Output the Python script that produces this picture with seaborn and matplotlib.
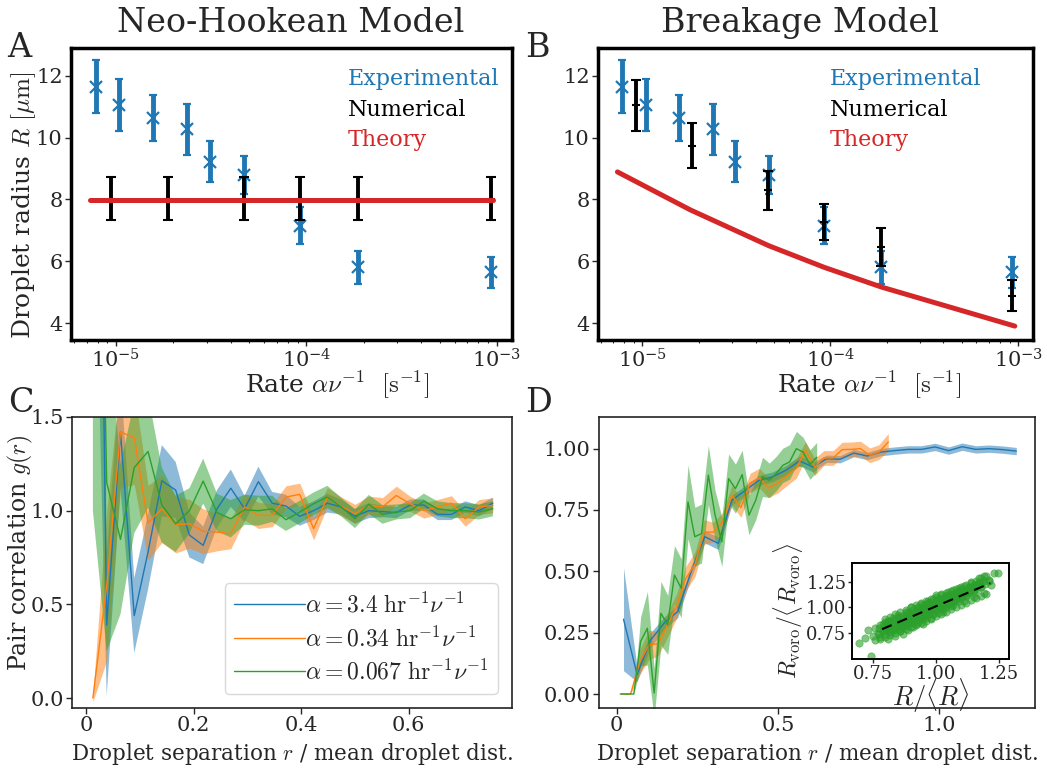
import matplotlib
matplotlib.use("Agg")
import matplotlib.pyplot as plt
import seaborn as sns

sns.set_theme(style="ticks")
plt.rcParams['font.family'] = ['DejaVu Serif']
plt.rcParams['mathtext.fontset'] = 'cm'

BLUE, ORANGE, GREEN, RED = '#1f77b4', '#ff7f0e', '#2ca02c', '#d62728'

# ---------------- Panels A / B data ----------------
exp_rate = [7.8e-6, 1.04e-5, 1.56e-5, 2.37e-5, 3.11e-5, 4.71e-5, 9.3e-5, 1.87e-4, 9.3e-4]
exp_R = [11.65, 11.05, 10.63, 10.27, 9.22, 8.8, 7.15, 5.8, 5.64]
exp_err = [0.85, 0.85, 0.75, 0.82, 0.66, 0.62, 0.59, 0.54, 0.5]

numA_rate = [9.4e-6, 1.88e-5, 4.71e-5, 9.3e-5, 1.87e-4, 9.3e-4]
numA_R = [8.02, 8.02, 8.02, 8.02, 8.02, 8.02]
numA_err = [0.7, 0.7, 0.7, 0.7, 0.7, 0.7]
theoryA_rate = [7.3e-6, 9.5e-4]
theoryA_R = [7.97, 7.97]

numB_rate = [9.2e-6, 1.84e-5, 4.67e-5, 9.3e-5, 1.87e-4, 9.3e-4]
numB_R = [11.05, 9.74, 8.29, 7.27, 6.47, 4.89]
numB_err = [0.83, 0.72, 0.64, 0.59, 0.61, 0.5]
theoryB_rate = [7.36e-6, 1.8e-5, 4.71e-5, 9.3e-5, 1.88e-4, 9.6e-4]
theoryB_R = [8.89, 7.66, 6.50, 5.80, 5.16, 3.90]

# ---------------- Panel C data ----------------
xC = [0.0128, 0.0385, 0.0641, 0.0897, 0.1154, 0.1410, 0.1667, 0.1923, 0.2179, 0.2436,
      0.2692, 0.2949, 0.3205, 0.3462, 0.3718, 0.3974, 0.4231, 0.4487, 0.4744, 0.5000,
      0.5256, 0.5513, 0.5769, 0.6026, 0.6282, 0.6538, 0.6795, 0.7051, 0.7308, 0.7564]
gC_blue = [6.0, 0.39, 1.42, 0.44, 0.78, 1.16, 1.11, 0.87, 0.815, 1.01, 1.12, 1.01, 1.155, 1.04, 1.025,
           0.97, 1.0, 1.04, 1.02, 0.97, 1.0, 0.995, 0.99, 1.03, 1.03, 0.98, 0.98, 1.02, 1.0, 1.04]
eC_blue = [3.0, 0.38, 0.3, 0.2, 0.2, 0.19, 0.15, 0.12, 0.1, 0.1, 0.1, 0.07, 0.08, 0.06, 0.06,
           0.05, 0.05, 0.05, 0.04, 0.04, 0.04, 0.03, 0.03, 0.03, 0.03, 0.03, 0.03, 0.03, 0.03, 0.03]
gC_orange = [0.0, 0.6, 1.42, 1.39, 0.936, 1.01, 0.925, 0.93, 0.89, 0.886, 0.877, 1.02, 0.975, 0.975, 1.073,
             1.087, 0.904, 1.073, 1.023, 0.984, 1.028, 1.02, 1.081, 1.037, 1.0, 1.02, 1.04, 0.957, 1.02, 1.028]
eC_orange = [0.02, 0.4, 0.3, 0.25, 0.2, 0.18, 0.15, 0.13, 0.12, 0.1, 0.08, 0.07, 0.07, 0.06, 0.06,
             0.06, 0.06, 0.05, 0.05, 0.05, 0.05, 0.05, 0.05, 0.04, 0.04, 0.04, 0.04, 0.04, 0.04, 0.04]
gC_green = [5.0, 1.15, 0.847, 1.23, 1.316, 1.03, 0.93, 1.0, 1.158, 0.99, 0.957, 1.005, 1.0, 1.01, 0.952,
            0.993, 1.037, 1.073, 1.02, 0.957, 1.034, 0.98, 0.993, 1.0, 1.051, 1.01, 1.0, 1.0, 0.993, 1.01]
eC_green = [4.0, 0.9, 0.4, 0.35, 0.3, 0.2, 0.15, 0.12, 0.12, 0.1, 0.1, 0.08, 0.08, 0.07, 0.06,
            0.06, 0.06, 0.06, 0.05, 0.05, 0.05, 0.05, 0.04, 0.04, 0.04, 0.04, 0.04, 0.04, 0.04, 0.04]
legend_labels = [r'$\alpha = 3.4\ \mathrm{hr}^{-1}\nu^{-1}$',
                 r'$\alpha = 0.34\ \mathrm{hr}^{-1}\nu^{-1}$',
                 r'$\alpha = 0.067\ \mathrm{hr}^{-1}\nu^{-1}$']

# ---------------- Panel D data ----------------
xD_blue = [0.021, 0.063, 0.105, 0.147, 0.189, 0.231, 0.273, 0.315, 0.357, 0.399, 0.441, 0.483, 0.525, 0.567, 0.609,
           0.651, 0.693, 0.735, 0.777, 0.819, 0.861, 0.903, 0.945, 0.987, 1.029, 1.071, 1.113, 1.155, 1.197, 1.239]
gD_blue = [0.305, 0.08, 0.22, 0.289, 0.336, 0.50, 0.641, 0.614, 0.79, 0.83, 0.871, 0.885, 0.912, 0.95, 0.925,
           0.959, 0.957, 0.982, 0.970, 0.986, 0.992, 0.997, 0.997, 1.007, 0.992, 1.008, 0.997, 1.0, 0.996, 0.99]
eD_blue = [0.21, 0.03, 0.03, 0.025, 0.025, 0.025, 0.025, 0.025, 0.02, 0.02, 0.02, 0.02, 0.02, 0.02, 0.02,
           0.015, 0.015, 0.015, 0.015, 0.015, 0.015, 0.015, 0.015, 0.015, 0.015, 0.015, 0.015, 0.015, 0.015, 0.015]
xD_orange = [0.014, 0.043, 0.071, 0.100, 0.128, 0.157, 0.186, 0.214, 0.243, 0.271, 0.300, 0.328, 0.357, 0.385, 0.414,
             0.442, 0.471, 0.500, 0.528, 0.557, 0.585, 0.614, 0.642, 0.671, 0.699, 0.728, 0.756, 0.785, 0.813, 0.842]
gD_orange = [0.0, 0.0, 0.13, 0.2, 0.205, 0.28, 0.36, 0.47, 0.53, 0.66, 0.66, 0.70, 0.81, 0.76, 0.86,
             0.88, 0.84, 0.86, 0.89, 0.92, 0.993, 0.925, 0.962, 0.962, 0.996, 0.997, 1.0, 0.973, 0.986, 1.027]
eD_orange = [0.0, 0.0, 0.05, 0.06, 0.05, 0.05, 0.05, 0.05, 0.05, 0.05, 0.04, 0.04, 0.04, 0.04, 0.04,
             0.04, 0.04, 0.04, 0.04, 0.04, 0.035, 0.035, 0.03, 0.03, 0.03, 0.03, 0.03, 0.03, 0.03, 0.035]
xD_green = [0.011, 0.032, 0.053, 0.074, 0.095, 0.116, 0.137, 0.158, 0.179, 0.200, 0.221, 0.242, 0.263, 0.284, 0.305,
            0.326, 0.347, 0.368, 0.389, 0.410, 0.431, 0.452, 0.473, 0.494, 0.515, 0.536, 0.557, 0.578, 0.599, 0.620]
gD_green = [0.0, 0.0, 0.0, 0.214, 0.268, 0.004, 0.329, 0.282, 0.485, 0.431, 0.783, 0.641, 0.654, 0.892, 0.729,
            0.62, 0.878, 0.837, 0.894, 0.729, 0.79, 0.885, 0.871, 0.898, 0.932, 0.946, 1.0, 0.986, 0.935, 0.965]
eD_green = [0.0, 0.0, 0.0, 0.1, 0.15, 0.1, 0.13, 0.12, 0.12, 0.12, 0.15, 0.12, 0.12, 0.12, 0.1,
            0.1, 0.1, 0.1, 0.1, 0.08, 0.08, 0.08, 0.07, 0.07, 0.07, 0.07, 0.07, 0.06, 0.06, 0.06]

# ---------------- Inset data (droplet radius vs Voronoi radius) ----------------
inset_x = [0.694, 0.743, 0.72, 0.73, 0.75, 0.76, 0.76, 0.77, 0.78, 0.78, 0.79, 0.80, 0.80, 0.81, 0.81, 0.82, 0.82,
           0.83, 0.83, 0.84, 0.84, 0.85, 0.85, 0.86, 0.86, 0.87, 0.87, 0.88, 0.88, 0.88, 0.89, 0.89, 0.90, 0.90,
           0.90, 0.91, 0.91, 0.92, 0.92, 0.92, 0.93, 0.93, 0.93, 0.94, 0.94, 0.94, 0.95, 0.95, 0.95, 0.96, 0.96,
           0.96, 0.97, 0.97, 0.97, 0.98, 0.98, 0.98, 0.99, 0.99, 0.99, 1.00, 1.00, 1.00, 1.01, 1.01, 1.01, 1.02,
           1.02, 1.02, 1.03, 1.03, 1.03, 1.04, 1.04, 1.04, 1.05, 1.05, 1.05, 1.06, 1.06, 1.06, 1.07, 1.07, 1.07,
           1.08, 1.08, 1.09, 1.09, 1.09, 1.10, 1.10, 1.11, 1.11, 1.12, 1.12, 1.13, 1.13, 1.14, 1.14, 1.15, 1.15,
           1.16, 1.16, 1.17, 1.18, 1.18, 1.19, 1.20, 1.21, 1.23, 1.246, 1.22,
           0.775, 0.775, 0.79, 0.79, 0.79, 0.805, 0.805, 0.805, 0.82, 0.82, 0.82, 0.835, 0.835, 0.835,
           0.85, 0.85, 0.85, 0.85, 0.865, 0.865, 0.865, 0.865, 0.88, 0.88, 0.88, 0.88,
           0.895, 0.895, 0.895, 0.895, 0.91, 0.91, 0.91, 0.91, 0.925, 0.925, 0.925, 0.925,
           0.94, 0.94, 0.94, 0.94, 0.955, 0.955, 0.955, 0.955, 0.97, 0.97, 0.97, 0.97,
           0.985, 0.985, 0.985, 0.985, 1.0, 1.0, 1.0, 1.0, 1.015, 1.015, 1.015, 1.015,
           1.03, 1.03, 1.03, 1.03, 1.045, 1.045, 1.045, 1.045, 1.06, 1.06, 1.06, 1.06,
           1.075, 1.075, 1.075, 1.09, 1.09, 1.09, 1.105, 1.105, 1.105, 1.12, 1.12, 1.12,
           1.135, 1.135, 1.15, 1.15, 1.165, 1.165, 1.18, 1.18, 1.195, 1.21,
           0.80, 0.82, 0.84, 0.86, 0.88, 0.90, 0.92, 0.94, 0.96, 0.98, 1.00, 1.02, 1.04, 1.06, 1.08, 1.10,
           1.12, 1.14, 1.17, 1.19,
           0.78, 0.80, 0.82, 0.84, 0.86, 0.88, 0.90, 0.92, 0.94, 0.96, 0.98, 1.00, 1.02, 1.04, 1.06, 1.08,
           1.10, 1.12, 1.14, 1.16, 1.18, 1.20,
           0.81, 0.85, 0.89, 0.93, 0.97, 1.01, 1.05, 1.09, 1.13, 1.17,
           0.83, 0.87, 0.91, 0.95, 0.99, 1.03, 1.07, 1.11, 1.15, 1.19]
inset_y = [0.653, 0.530, 0.70, 0.78, 0.72, 0.80, 0.68, 0.75, 0.83, 0.71, 0.77, 0.86, 0.74, 0.80, 0.69, 0.83, 0.76,
           0.90, 0.79, 0.72, 0.85, 0.81, 0.93, 0.77, 0.87, 0.83, 0.74, 0.90, 0.96, 0.82, 0.86, 0.78, 0.92, 0.85,
           1.00, 0.88, 0.81, 0.95, 0.90, 0.84, 0.98, 0.92, 0.86, 1.03, 0.94, 0.89, 0.97, 0.91, 0.84, 1.01, 0.95,
           0.90, 1.06, 0.99, 0.93, 1.03, 0.97, 0.90, 1.08, 1.00, 0.94, 1.04, 0.98, 1.12, 1.01, 0.95, 1.07, 1.05,
           0.99, 1.13, 1.08, 1.02, 0.96, 1.11, 1.05, 1.00, 1.09, 1.15, 1.03, 1.12, 1.06, 1.01, 1.10, 1.17, 1.05,
           1.14, 1.08, 1.12, 1.19, 1.06, 1.16, 1.10, 1.13, 1.21, 1.17, 1.11, 1.20, 1.15, 1.24, 1.18, 1.22, 1.14,
           1.26, 1.20, 1.24, 1.28, 1.21, 1.26, 1.30, 1.27, 1.33, 1.33, 1.22,
           0.80, 0.74, 0.84, 0.77, 0.81, 0.78, 0.85, 0.82, 0.87, 0.80, 0.76, 0.82, 0.88, 0.79,
           0.90, 0.83, 0.86, 0.79, 0.85, 0.92, 0.88, 0.81, 0.93, 0.87, 0.84, 0.91,
           0.89, 0.95, 0.86, 0.93, 0.97, 0.90, 0.94, 0.87, 0.91, 0.96, 0.99, 0.89,
           0.95, 1.00, 0.92, 0.97, 0.98, 0.93, 1.02, 0.96, 1.00, 0.95, 1.04, 0.97,
           1.02, 0.97, 0.99, 1.05, 1.01, 1.06, 0.97, 1.03, 1.04, 0.99, 1.08, 1.02,
           1.06, 1.01, 1.09, 1.04, 1.08, 1.03, 1.11, 1.06, 1.09, 1.05, 1.12, 1.07,
           1.11, 1.07, 1.14, 1.13, 1.09, 1.16, 1.15, 1.10, 1.18, 1.17, 1.12, 1.14,
           1.19, 1.15, 1.21, 1.17, 1.23, 1.18, 1.25, 1.20, 1.23, 1.26,
           0.89, 0.91, 0.94, 0.96, 0.97, 1.00, 1.02, 1.04, 1.06, 1.08, 1.10, 1.12, 1.14, 1.16, 1.18, 1.20,
           1.22, 1.25, 1.28, 1.30,
           0.69, 0.71, 0.73, 0.75, 0.77, 0.79, 0.81, 0.83, 0.85, 0.87, 0.89, 0.92, 0.94, 0.96, 0.98, 1.00,
           1.02, 1.04, 1.07, 1.09, 1.11, 1.13,
           0.87, 0.91, 0.96, 1.00, 1.04, 1.08, 1.12, 1.16, 1.20, 1.24,
           0.78, 0.82, 0.86, 0.90, 0.94, 0.98, 1.02, 1.06, 1.10, 1.14]
fit_x = [0.787, 1.216]
fit_y = [0.789, 1.234]

# ---------------- Figure ----------------
fig = plt.figure(figsize=(10.47, 7.72), dpi=100)
W, H = 1047, 772

def box(l, t, r, b):
    return [l / W, 1 - b / H, (r - l) / W, (b - t) / H]

axA = fig.add_axes(box(71, 48, 512, 340))
axB = fig.add_axes(box(598, 48, 1033, 340))
axC = fig.add_axes(box(72, 417, 512, 708))
axD = fig.add_axes(box(599, 417, 1035, 708))
axI = fig.add_axes(box(852, 563, 1009, 659))

TICK = 15

for ax, num_rate, num_R, num_err, th_rate, th_R, txtx in [
        (axA, numA_rate, numA_R, numA_err, theoryA_rate, theoryA_R, 0.628),
        (axB, numB_rate, numB_R, numB_err, theoryB_rate, theoryB_R, 0.533)]:
    ax.set_xscale('log')
    ax.errorbar(exp_rate, exp_R, yerr=exp_err, fmt='x', color=BLUE, ms=9, mew=1.6,
                elinewidth=3.5, capsize=3, capthick=2, zorder=2)
    ax.errorbar(num_rate, num_R, yerr=num_err, fmt='_', color='black', ms=6, mew=1.5,
                elinewidth=2.8, capsize=3.5, capthick=2, zorder=3)
    sns.lineplot(x=th_rate, y=th_R, color=RED, lw=3.6, ax=ax, zorder=4)
    ax.set_xlim(5.8e-6, 1.2e-3)
    ax.set_ylim(3.45, 12.9)
    ax.set_yticks([4, 6, 8, 10, 12])
    ax.tick_params(axis='both', which='major', labelsize=TICK, length=4, width=1, pad=2)
    ax.tick_params(axis='x', which='minor', length=2.5, width=0.8)
    for s in ax.spines.values():
        s.set_linewidth(2.5)
        s.set_color('black')
    ax.text(txtx, 0.894, 'Experimental', color=BLUE, fontsize=16, transform=ax.transAxes, va='center')
    ax.text(txtx, 0.788, 'Numerical', color='black', fontsize=16, transform=ax.transAxes, va='center')
    ax.text(txtx, 0.685, 'Theory', color=RED, fontsize=16, transform=ax.transAxes, va='center')

axA.set_ylabel(r'Droplet radius $R$ $[\mu\mathrm{m}]$', fontsize=18)
axA.yaxis.set_label_coords(-0.075, 0.46)
axA.set_xlabel(r'Rate $\alpha\nu^{-1}$  $[\mathrm{s}^{-1}]$', fontsize=18)
axA.xaxis.set_label_coords(0.603, -0.1)
axB.set_xlabel(r'Rate $\alpha\nu^{-1}$  $[\mathrm{s}^{-1}]$', fontsize=18)
axB.xaxis.set_label_coords(0.624, -0.1)

# Panel C
for g, e, c, lab in [(gC_blue, eC_blue, BLUE, legend_labels[0]),
                     (gC_orange, eC_orange, ORANGE, legend_labels[1]),
                     (gC_green, eC_green, GREEN, legend_labels[2])]:
    lo = [a - b for a, b in zip(g, e)]
    hi = [a + b for a, b in zip(g, e)]
    axC.fill_between(xC, lo, hi, color=c, alpha=0.5, lw=0)
    sns.lineplot(x=xC, y=g, color=c, lw=1.0, ax=axC, label=lab, sort=False)
axC.set_xlim(-0.026, 0.792)
axC.set_ylim(-0.053, 1.5)
axC.set_xticks([0, 0.2, 0.4, 0.6])
axC.set_xticklabels(['0', '0.2', '0.4', '0.6'])
axC.set_yticks([0, 0.5, 1.0, 1.5])
axC.set_yticklabels(['0.0', '0.5', '1.0', '1.5'])
axC.set_ylabel(r'Pair correlation $g(r)$', fontsize=17)
axC.yaxis.set_label_coords(-0.085, 0.533)
axC.set_xlabel(r'Droplet separation $r$ / mean droplet dist.', fontsize=15.5)
axC.xaxis.set_label_coords(0.5, -0.112)
leg = axC.legend(loc='lower right', fontsize=17, handlelength=3.0, handletextpad=0.0,
                 frameon=True, borderaxespad=0.6, labelspacing=0.35)
leg.get_frame().set_edgecolor('#d0d0d0')
leg.get_frame().set_alpha(0.8)

# Panel D
for xs, g, e, c in [(xD_blue, gD_blue, eD_blue, BLUE),
                    (xD_orange, gD_orange, eD_orange, ORANGE),
                    (xD_green, gD_green, eD_green, GREEN)]:
    lo = [a - b for a, b in zip(g, e)]
    hi = [a + b for a, b in zip(g, e)]
    axD.fill_between(xs, lo, hi, color=c, alpha=0.5, lw=0)
    sns.lineplot(x=xs, y=g, color=c, lw=1.0, ax=axD, sort=False)
axD.set_xlim(-0.055, 1.297)
axD.set_ylim(-0.057, 1.129)
axD.set_xticks([0, 0.5, 1.0])
axD.set_xticklabels(['0', '0.5', '1.0'])
axD.set_yticks([0, 0.25, 0.5, 0.75, 1.0])
axD.set_yticklabels(['0.00', '0.25', '0.50', '0.75', '1.00'])
axD.set_xlabel(r'Droplet separation $r$ / mean droplet dist.', fontsize=15.5)
axD.xaxis.set_label_coords(0.5, -0.112)

for ax in (axC, axD):
    ax.tick_params(axis='both', labelsize=TICK, length=4, width=1, pad=2)
    for s in ax.spines.values():
        s.set_linewidth(1.2)
        s.set_color('#222222')

# Inset
sns.scatterplot(x=inset_x, y=inset_y, color=GREEN, s=28, alpha=0.6, edgecolor=GREEN, linewidth=0.5, ax=axI)
sns.lineplot(x=fit_x, y=fit_y, color='black', lw=1.5, linestyle='--', ax=axI)
axI.lines[-1].set_dashes([5, 3])
axI.set_xlim(0.668, 1.29)
axI.set_ylim(0.5, 1.43)
axI.set_xticks([0.75, 1.0, 1.25])
axI.set_xticklabels(['0.75', '1.00', '1.25'])
axI.set_yticks([0.75, 1.0, 1.25])
axI.set_yticklabels(['0.75', '1.00', '1.25'])
axI.tick_params(axis='both', labelsize=13, length=3, width=1, pad=1)
axI.set_xlabel(r'$R/\langle R\rangle$', fontsize=19, labelpad=-4)
axI.set_ylabel(r'$R_{\mathrm{voro}}/\langle R_{\mathrm{voro}}\rangle$', fontsize=17, labelpad=1)
for s in axI.spines.values():
    s.set_linewidth(1.4)
    s.set_color('black')

# Titles and panel letters
fig.text(291 / W, 1 - 32 / H, 'Neo-Hookean Model', fontsize=24, ha='center', va='baseline')
fig.text(800 / W, 1 - 32 / H, 'Breakage Model', fontsize=24, ha='center', va='baseline')
fig.text(7 / W, 1 - 57 / H, 'A', fontsize=24, va='baseline')
fig.text(525 / W, 1 - 57 / H, 'B', fontsize=24, va='baseline')
fig.text(8 / W, 1 - 412 / H, 'C', fontsize=24, va='baseline')
fig.text(525 / W, 1 - 412 / H, 'D', fontsize=24, va='baseline')

fig.savefig('out.png', dpi=100)
